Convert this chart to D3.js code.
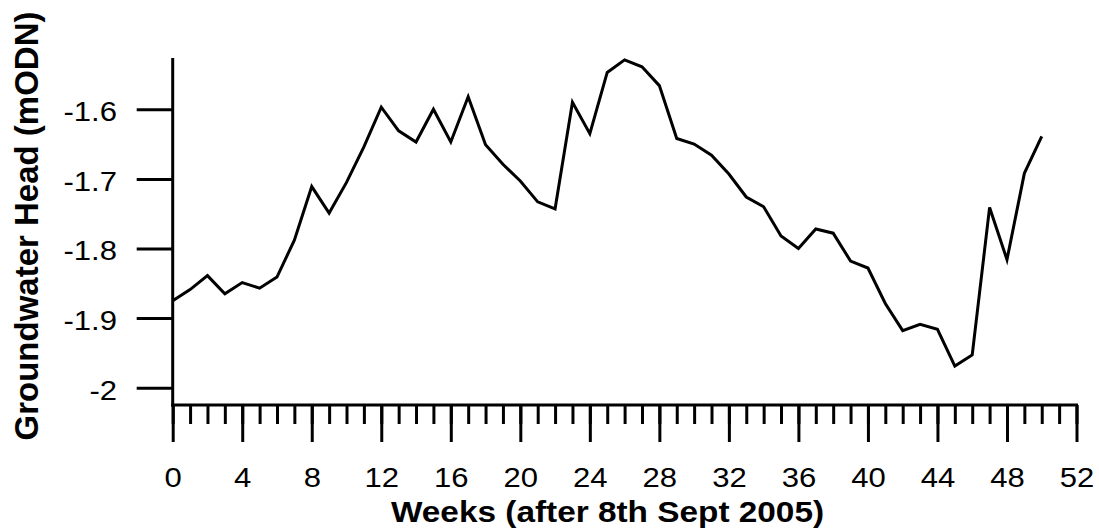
<!DOCTYPE html>
<html>
<head>
<meta charset="utf-8">
<script src="https://cdn.jsdelivr.net/npm/d3@7"></script>
<style>
body { margin:0; background:#fff; }
svg { display:block; }
text { font-family: "Liberation Sans", Arial, sans-serif; fill:#000; }
</style>
</head>
<body>
<div class="canvas"></div>
<script>
//Data
var weeks = [0,1,2,3,4,5,6,7,8,9,10,11,12,13,14,15,16,17,18,19,20,21,22,23,24,25,
	26,27,28,29,30,31,32,33,34,35,36,37,38,39,40,41,42,43,44,45,46,47,48,49,50];
var head = [-1.875,-1.859,-1.839,-1.865,-1.849,-1.857,-1.841,-1.788,-1.711,-1.749,
	-1.705,-1.654,-1.597,-1.631,-1.647,-1.600,-1.647,-1.582,-1.651,-1.679,
	-1.703,-1.733,-1.743,-1.590,-1.635,-1.547,-1.529,-1.539,-1.566,-1.642,
	-1.650,-1.666,-1.693,-1.726,-1.740,-1.782,-1.800,-1.772,-1.778,-1.818,
	-1.828,-1.879,-1.918,-1.909,-1.916,-1.969,-1.953,-1.741,-1.816,-1.692,-1.639];
var xTicks = [0,4,8,12,16,20,24,28,32,36,40,44,48,52];
var yTicks = [-1.6,-1.7,-1.8,-1.9,-2];

var W = 1099, H = 531;
var stretch = 1.15; //text in the original is a bit wide

var svg = d3.select('.canvas')
	.append('svg')
	.attr('width',W)
	.attr('height',H);

var x = d3.scaleLinear().domain([0,52]).range([172.7,1076.5]);
var y = d3.scaleLinear().domain([-2,-1.6]).range([387.7,109.3]);
var axisY = 405;

//y axis (plain hyphen for the minus, like the original)
var gy = svg.append('g')
	.attr('transform','translate('+x(0)+',0)')
	.call(d3.axisLeft(y).tickValues(yTicks).tickSize(36)
		.tickFormat(function(d){ return d.toString(); }));
gy.select('.domain').remove();
gy.selectAll('.tick line').attr('stroke','#000').attr('stroke-width',3);
gy.selectAll('.tick text')
	.attr('font-size',27)
	.attr('x',-55.7/stretch)
	.attr('dy','0.42em')
	.attr('transform','scale('+stretch+',1)');
svg.append('line')
	.attr('x1',x(0)).attr('x2',x(0))
	.attr('y1',58).attr('y2',axisY+1.5)
	.attr('stroke','#000').attr('stroke-width',3);

//x axis, minor ticks every week
var gxMinor = svg.append('g')
	.attr('transform','translate(0,'+axisY+')')
	.call(d3.axisBottom(x).tickValues(d3.range(0,53)).tickSize(19).tickFormat(''));
gxMinor.select('.domain').remove();
gxMinor.selectAll('.tick line').attr('stroke','#000').attr('stroke-width',3);

var gx = svg.append('g')
	.attr('transform','translate(0,'+axisY+')')
	.call(d3.axisBottom(x).tickValues(xTicks).tickSize(37).tickPadding(25.5));
gx.select('.domain').remove();
gx.selectAll('.tick line').attr('stroke','#000').attr('stroke-width',3);
gx.selectAll('.tick text')
	.attr('font-size',27)
	.attr('transform','scale('+stretch+',1)');
svg.append('line')
	.attr('x1',x(0)-1.5).attr('x2',x(52)+1.5)
	.attr('y1',axisY).attr('y2',axisY)
	.attr('stroke','#000').attr('stroke-width',3);

//axis titles
svg.append('text')
	.attr('transform','translate(607.5,521.7) scale('+stretch+',1)')
	.attr('text-anchor','middle')
	.attr('font-size',29)
	.attr('font-weight','bold')
	.text('Weeks (after 8th Sept 2005)');

svg.append('text')
	.attr('transform','translate(37.5,226) rotate(-90)')
	.attr('text-anchor','middle')
	.attr('font-size',33)
	.attr('font-weight','bold')
	.text('Groundwater Head (mODN)');

//the series
var line = d3.line()
	.x(function(d,i){ return x(weeks[i]); })
	.y(function(d){ return y(d); });

svg.append('path')
	.datum(head)
	.attr('d',line)
	.attr('fill','none')
	.attr('stroke','#000')
	.attr('stroke-width',3)
	.attr('stroke-linejoin','miter');
</script>
</body>
</html>
